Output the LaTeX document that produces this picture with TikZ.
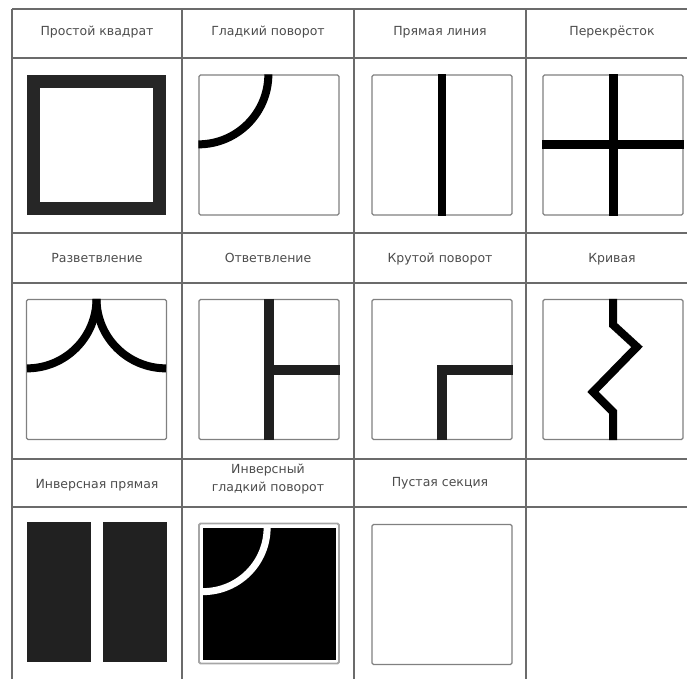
\documentclass[tikz,border=0pt]{standalone}
\usepackage{fontspec}
\setmainfont{DejaVu Sans}
\usepackage{xcolor}
\usetikzlibrary{positioning, calc}

\begin{document}
\begin{tikzpicture}[x=1pt, y=-1pt,
					grid/.style={draw=black!58, line width=1.4pt},
					caption/.style={font=\fontsize{12.5}{18}\selectfont, text=black!70, text height=9pt, text depth=3pt},
					caption2/.style={font=\fontsize{12.5}{18}\selectfont, text=black!70, align=center},
					tile/.style={rectangle, draw=black!50, line width=1.3pt, rounded corners=1.5pt, minimum width=140pt, minimum height=140pt, inner sep=0pt},
					track/.style={line width=8pt, black}
				]
					\useasboundingbox (0,0) rectangle (687,679);
					
					% Table
					\draw[grid] (12,9) -- (687,9);
					\draw[grid] (12,58) -- (687,58);
					\draw[grid] (12,233) -- (687,233);
					\draw[grid] (12,283) -- (687,283);
					\draw[grid] (12,459) -- (687,459);
					\draw[grid] (12,507) -- (687,507);
					\draw[grid] (12,9) -- (12,679);
					\draw[grid] (182,9) -- (182,679);
					\draw[grid] (354,9) -- (354,679);
					\draw[grid] (526,9) -- (526,679);
					
					% Captions
					\node[caption] (c11) at (97,33) {Простой квадрат};
					\node[caption] (c12) at (268,33) {Гладкий поворот};
					\node[caption] (c13) at (440,33) {Прямая линия};
					\node[caption] (c14) at (612,33) {Перекрёсток};
					\node[caption] (c21) at (97,259) {Разветвление};
					\node[caption] (c22) at (268,259) {Ответвление};
					\node[caption] (c23) at (440,259) {Крутой поворот};
					\node[caption] (c24) at (612,259) {Кривая};
					\node[caption] (c31) at (97,485) {Инверсная прямая};
					\node[caption2] (c32) at (268,479) {Инверсный\\гладкий поворот};
					\node[caption] (c33) at (440,483) {Пустая секция};
					
					% Tiles
					\node[tile, draw=black!85, line width=13pt, rounded corners=0pt, minimum width=126pt, minimum height=127pt] (t11) at (96.5,145) {};
					\node[tile] (t12) at (269,145) {};
					\node[tile] (t13) at (442,145) {};
					\node[tile] (t14) at (613,145) {};
					\node[tile] (t21) at (96.5,369.5) {};
					\node[tile] (t22) at (269,369.5) {};
					\node[tile] (t23) at (442,369.5) {};
					\node[tile] (t24) at (613,369.5) {};
					\node[tile, draw=none, fill=black!87, rounded corners=0pt] (t31) at (96.5,592) {};
					\node[tile, draw=black!35, line width=1.8pt] (t32) at (269,593.5) {};
					\node[tile] (t33) at (442,594.5) {};
					
					% Tracks
					\draw[track] (t12.north west) ++(70,0) arc[start angle=0, end angle=-90, radius=70pt];
					\draw[track] (t13.north) -- (t13.south);
					\draw[track, line width=9pt] (t14.north) -- (t14.south);
					\draw[track, line width=9pt] (t14.west) -- (t14.east);
					\draw[track] (t21.north) arc[start angle=0, end angle=-90, radius=69.5pt];
					\draw[track] (t21.north) arc[start angle=180, end angle=270, radius=69.5pt];
					\draw[track, line width=10pt, black!88] (t22.north) -- (t22.south);
					\draw[track, line width=10pt, black!88] (t22.center) -- (t22.east);
					\draw[track, line width=10pt, black!88] (t23.south) -- (t23.center) -- (t23.east);
					\draw[track] (t24.north) -- ($(t24.north)+(0,26)$) -- ($(t24.north)+(24,48)$)
						-- ($(t24.north)+(-20,93)$) -- ($(t24.north)+(0,113)$) -- (t24.south);
					\draw[white, line width=12pt] (t31.north) -- (t31.south);
					\fill[black] ($(t32.north west)+(5,5)$) coordinate (inner) rectangle ($(t32.south east)+(-4,-4)$);
					\draw[white, line width=7pt] (inner) ++(64,0) arc[start angle=0, end angle=-90, radius=64pt];
				\end{tikzpicture}
\end{document}
